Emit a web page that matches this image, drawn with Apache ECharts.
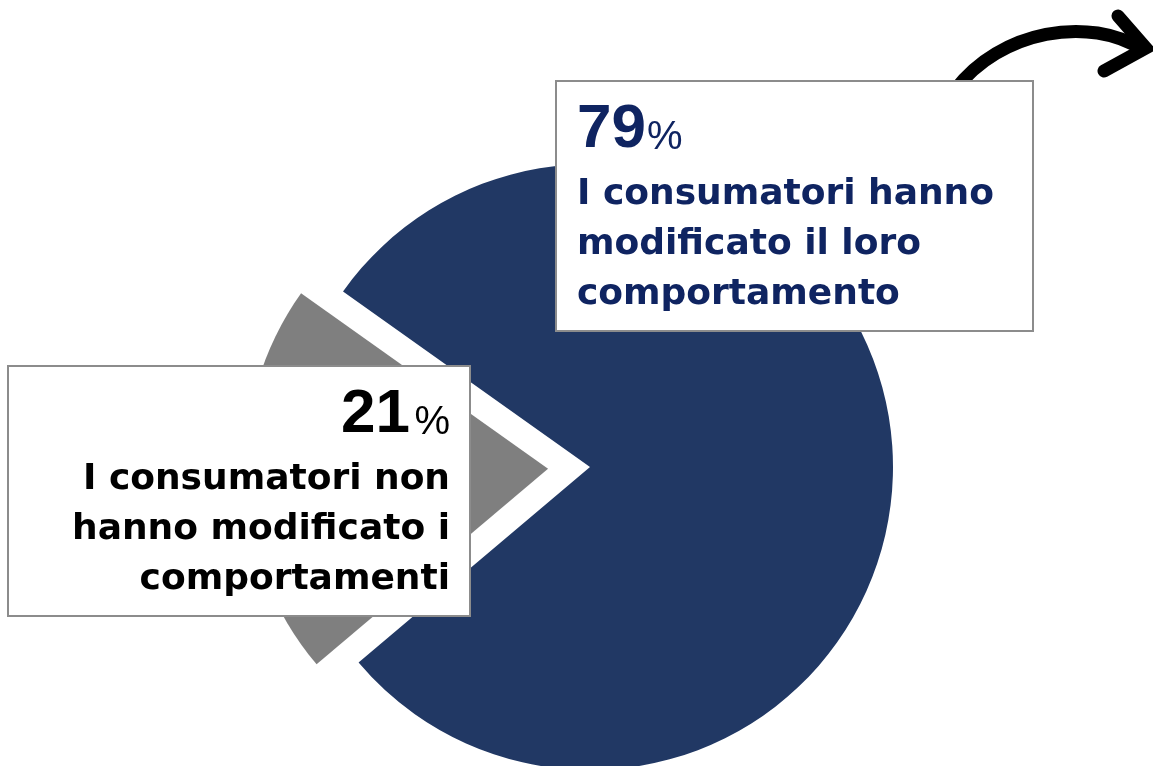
<!DOCTYPE html>
<html>
<head>
<meta charset="utf-8">
<script src="https://cdn.jsdelivr.net/npm/echarts@6/dist/echarts.min.js"></script>
<style>
  html, body { margin: 0; padding: 0; background: #ffffff; }
  #chart { width: 1153px; height: 766px; }
</style>
</head>
<body>
<div id="chart"></div>
<script>
// Share of consumers who changed / did not change their behaviour
const categories = ['Hanno modificato', 'Non hanno modificato'];
const values = [79, 21];
const descriptions = [
  ['I consumatori hanno', 'modificato il loro', 'comportamento'],
  ['I consumatori non', 'hanno modificato i', 'comportamenti']
];
const sliceColors = ['#213864', '#7f7f7f'];

const chart = echarts.init(document.getElementById('chart'), null, { renderer: 'canvas' });

const BODY_FONT = '"DejaVu Sans", sans-serif';
const NUM_FONT = '"Liberation Sans", Arial, sans-serif';

// Build a label block (big percentage + description lines) at a given anchor
function labelBlock(x, firstBaseline, align, color, idx) {
  const els = [];
  const numSize = 62, pctSize = 40, bodySize = 36, lineGap = 50;
  const num = String(values[idx]);
  const mid = (b, s) => b - 0.36 * s;
  if (align === 'left') {
    els.push({
      type: 'text', x: x, y: mid(firstBaseline, numSize), z: 20,
      style: { text: num, font: 'bold ' + numSize + 'px ' + NUM_FONT, fill: color, align: 'left', verticalAlign: 'middle' }
    });
    els.push({
      type: 'text', x: x + 70, y: mid(firstBaseline, pctSize), z: 20,
      style: { text: '%', font: pctSize + 'px ' + NUM_FONT, fill: color, align: 'left', verticalAlign: 'middle' }
    });
  } else {
    els.push({
      type: 'text', x: x, y: mid(firstBaseline, pctSize), z: 20,
      style: { text: '%', font: pctSize + 'px ' + NUM_FONT, fill: color, align: 'right', verticalAlign: 'middle' }
    });
    els.push({
      type: 'text', x: x - 40, y: mid(firstBaseline, numSize), z: 20,
      style: { text: num, font: 'bold ' + numSize + 'px ' + NUM_FONT, fill: color, align: 'right', verticalAlign: 'middle' }
    });
  }
  descriptions[idx].forEach((line, i) => {
    const b = firstBaseline + 56 + i * lineGap;
    els.push({
      type: 'text', x: x, y: mid(b, bodySize), z: 20,
      style: { text: line, font: 'bold ' + bodySize + 'px ' + BODY_FONT, fill: color, align: align, verticalAlign: 'middle' }
    });
  });
  return els;
}

const boxStyle = { fill: '#ffffff', stroke: '#8c8c8c', lineWidth: 2 };

const option = {
  backgroundColor: '#ffffff',
  animation: false,
  series: [{
    type: 'pie',
    center: [590, 467],
    radius: 303,
    startAngle: 144.6,
    clockwise: true,
    selectedMode: 'single',
    selectedOffset: 42,
    label: { show: false },
    labelLine: { show: false },
    emphasis: { disabled: true },
    itemStyle: { borderWidth: 0 },
    data: categories.map((name, i) => ({
      name: name,
      value: values[i],
      selected: i === 1,
      itemStyle: { color: sliceColors[i] }
    }))
  }],
  graphic: [
    // curved arrow at top right
    {
      type: 'bezierCurve', z: 5,
      shape: { x1: 955, y1: 90, cpx1: 1000, cpy1: 30, cpx2: 1090, cpy2: 15, x2: 1143, y2: 50 },
      style: { fill: null, stroke: '#000000', lineWidth: 13, lineCap: 'butt' }
    },
    {
      type: 'polyline', z: 5,
      shape: { points: [[1118, 16], [1146, 48], [1104, 71]] },
      style: { fill: null, stroke: '#000000', lineWidth: 13, lineCap: 'round', lineJoin: 'miter' }
    },
    // label boxes
    { type: 'rect', z: 10, shape: { x: 556, y: 81, width: 477, height: 250 }, style: boxStyle },
    { type: 'rect', z: 10, shape: { x: 8, y: 366, width: 462, height: 250 }, style: boxStyle },
    ...labelBlock(577, 152, 'left', '#0f2461', 0),
    ...labelBlock(450, 437, 'right', '#000000', 1)
  ]
};

chart.setOption(option);
</script>
</body>
</html>
